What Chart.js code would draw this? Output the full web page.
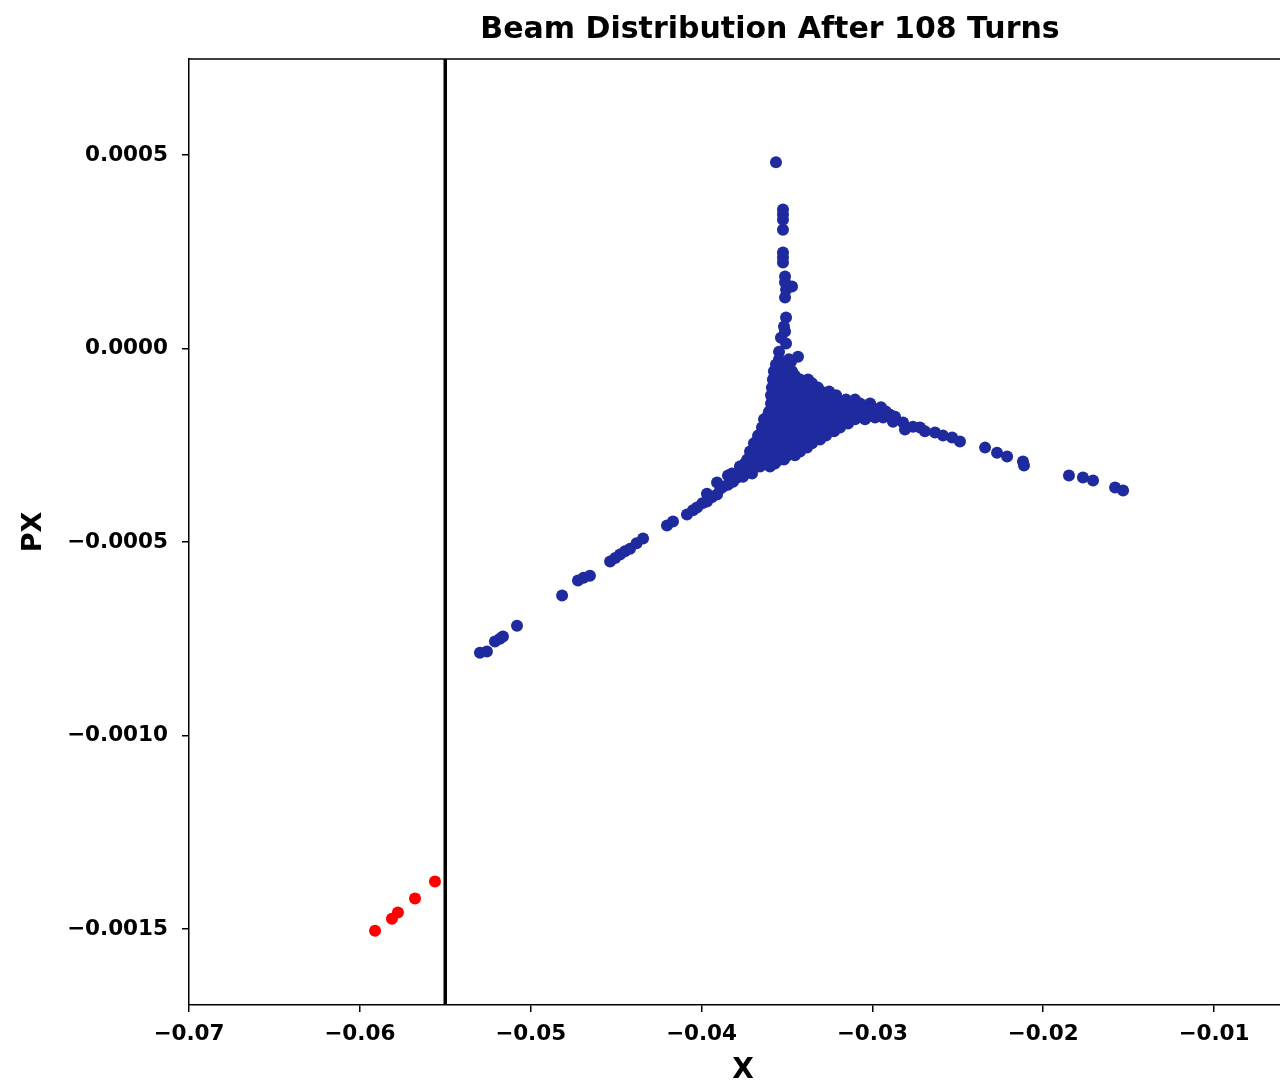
<!DOCTYPE html>
<html>
<head>
<meta charset="utf-8">
<title>Beam Distribution After 108 Turns</title>
<script src="https://cdn.jsdelivr.net/npm/chart.js@4.4.1/dist/chart.umd.min.js"></script>
<style>
  html, body { margin: 0; padding: 0; background: #ffffff; overflow: hidden; }
  #wrap { width: 1280px; height: 1085px; overflow: hidden; position: relative; }
  canvas { display: block; }
</style>
</head>
<body>
<div id="wrap"><canvas id="phase" width="1540" height="1085"></canvas></div>
<script>
// ---- Phase-space coordinates (X [m], PX [rad]) after 108 turns ----

// Particles still circulating: the vertical (upper) arm of the distribution
const upperArmX  = [-0.03564, -0.03523, -0.03523, -0.03523, -0.03523, -0.03523, -0.03523, -0.03523,
                    -0.03511, -0.03511, -0.03505, -0.03470, -0.03511, -0.03505, -0.03511, -0.03517,
                    -0.03535, -0.03505, -0.03546, -0.03435, -0.03476];
const upperArmPX = [0.000481, 0.000359, 0.000346, 0.000333, 0.000307, 0.000248, 0.000235, 0.000222,
                    0.000186, 0.000171, 0.000152, 0.000160, 0.000132, 0.000080, 0.000044, 0.000057,
                    0.000028, 0.000013, -0.000008, -0.000021, -0.000034];

// Dense core, one PX level per row
const coreRowPX = [-0.000028, -0.000041, -0.000059, -0.000080, -0.000101, -0.000121, -0.000142, -0.000163,
                   -0.000183, -0.000204, -0.000225, -0.000245, -0.000266, -0.000287, -0.000305, -0.000323];
const coreRowX = [
  [-0.03546, -0.03488],
  [-0.03564, -0.03505],
  [-0.03576, -0.03523, -0.03470],
  [-0.03582, -0.03529, -0.03476, -0.03423, -0.03376],
  [-0.03588, -0.03535, -0.03482, -0.03429, -0.03376, -0.03318],
  [-0.03593, -0.03540, -0.03488, -0.03435, -0.03382, -0.03329, -0.03271, -0.03212],
  [-0.03593, -0.03552, -0.03499, -0.03447, -0.03394, -0.03341, -0.03289, -0.03236, -0.03183, -0.03131, -0.03072, -0.03013],
  [-0.03605, -0.03564, -0.03511, -0.03459, -0.03406, -0.03353, -0.03300, -0.03248, -0.03195, -0.03142, -0.03090, -0.03037, -0.02978, -0.02920],
  [-0.03634, -0.03588, -0.03535, -0.03482, -0.03429, -0.03376, -0.03324, -0.03271, -0.03218, -0.03160, -0.03101, -0.03043],
  [-0.03646, -0.03611, -0.03558, -0.03505, -0.03453, -0.03400, -0.03347, -0.03294, -0.03242, -0.03189],
  [-0.03669, -0.03634, -0.03582, -0.03529, -0.03476, -0.03423, -0.03370, -0.03318, -0.03271],
  [-0.03693, -0.03663, -0.03611, -0.03558, -0.03505, -0.03453, -0.03400, -0.03353],
  [-0.03716, -0.03681, -0.03628, -0.03576, -0.03523, -0.03470, -0.03423],
  [-0.03733, -0.03698, -0.03646, -0.03593, -0.03540, -0.03517],
  [-0.03774, -0.03716, -0.03657, -0.03599],
  [-0.03821, -0.03763, -0.03704]
];

// Core particles lying between the rows above
const coreMidRowPX = [-0.000070, -0.000090, -0.000111, -0.000132, -0.000152, -0.000173,
                      -0.000194, -0.000214, -0.000235, -0.000256, -0.000276, -0.000297];
const coreMidRowX = [
  [-0.03558, -0.03505, -0.03453],
  [-0.03558, -0.03505, -0.03453, -0.03400, -0.03353],
  [-0.03564, -0.03511, -0.03459, -0.03406, -0.03353, -0.03300, -0.03253],
  [-0.03570, -0.03523, -0.03470, -0.03417, -0.03365, -0.03312, -0.03259, -0.03206, -0.03154, -0.03101],
  [-0.03582, -0.03529, -0.03476, -0.03423, -0.03371, -0.03318, -0.03265, -0.03212, -0.03160, -0.03107, -0.03054, -0.03002, -0.02949],
  [-0.03611, -0.03558, -0.03505, -0.03453, -0.03400, -0.03347, -0.03294, -0.03242, -0.03189, -0.03131, -0.03072, -0.03013],
  [-0.03622, -0.03570, -0.03517, -0.03464, -0.03412, -0.03359, -0.03306, -0.03253, -0.03201, -0.03142],
  [-0.03640, -0.03588, -0.03535, -0.03482, -0.03429, -0.03376, -0.03324, -0.03271, -0.03224],
  [-0.03669, -0.03617, -0.03564, -0.03511, -0.03459, -0.03406, -0.03353, -0.03306],
  [-0.03681, -0.03628, -0.03576, -0.03523, -0.03470, -0.03423, -0.03382],
  [-0.03704, -0.03652, -0.03599, -0.03546, -0.03494, -0.03453],
  [-0.03745, -0.03687, -0.03628, -0.03570]
];

// Lower-left arm
const lowerArmX  = [-0.05297, -0.05256, -0.05209, -0.05180, -0.05162, -0.05080, -0.04816, -0.04723,
                    -0.04690, -0.04653, -0.04535, -0.04505, -0.04477, -0.04448, -0.04418, -0.04380,
                    -0.04342, -0.04202, -0.04167, -0.04085, -0.04050, -0.04026, -0.03995, -0.03968,
                    -0.03968, -0.03940, -0.03909, -0.03909, -0.03890, -0.03874, -0.03845, -0.03845,
                    -0.03815, -0.03790, -0.03774, -0.03757, -0.03740, -0.03716, -0.03700, -0.03675];
const lowerArmPX = [-0.000786, -0.000783, -0.000757, -0.000750, -0.000744, -0.000716, -0.000638, -0.000599,
                    -0.000592, -0.000587, -0.000550, -0.000541, -0.000532, -0.000524, -0.000517, -0.000503,
                    -0.000491, -0.000457, -0.000447, -0.000429, -0.000418, -0.000411, -0.000400, -0.000395,
                    -0.000375, -0.000384, -0.000377, -0.000346, -0.000362, -0.000357, -0.000352, -0.000328,
                    -0.000344, -0.000333, -0.000305, -0.000331, -0.000318, -0.000318, -0.000305, -0.000305];

// Right-hand arm
const rightArmX  = [-0.02984, -0.02937, -0.02896, -0.02879, -0.02867, -0.02820, -0.02809, -0.02762,
                    -0.02721, -0.02692, -0.02633, -0.02586, -0.02533, -0.02487, -0.02340, -0.02270,
                    -0.02211, -0.02118, -0.02112, -0.01849, -0.01767, -0.01708, -0.01579, -0.01532];
const rightArmPX = [-0.000178, -0.000178, -0.000171, -0.000189, -0.000176, -0.000191, -0.000209, -0.000202,
                    -0.000204, -0.000214, -0.000217, -0.000225, -0.000230, -0.000240, -0.000256, -0.000269,
                    -0.000279, -0.000292, -0.000302, -0.000328, -0.000333, -0.000341, -0.000359, -0.000367];

// Particles lost beyond the aperture
const lostX  = [-0.05911, -0.05812, -0.05777, -0.05677, -0.05560];
const lostPX = [-0.001504, -0.001473, -0.001457, -0.001421, -0.001377];

// Aperture position and axes
const apertureX = -0.055;
const xMin = -0.07, xMax = -0.00514;
const yMin = -0.001696, yMax = 0.000748;
const xTicks = [-0.07, -0.06, -0.05, -0.04, -0.03, -0.02, -0.01];
const yTicks = [-0.0015, -0.0010, -0.0005, 0.0, 0.0005];

// ---- Build point lists ----
const toPoints = (xs, ys) => xs.map((x, i) => ({ x: x, y: ys[i] }));
const rowsToPoints = (rows, levels) => rows.flatMap((row, r) => row.map(x => ({ x: x, y: levels[r] })));
const survivors = [
  ...toPoints(upperArmX, upperArmPX),
  ...rowsToPoints(coreRowX, coreRowPX),
  ...rowsToPoints(coreMidRowX, coreMidRowPX),
  ...toPoints(lowerArmX, lowerArmPX),
  ...toPoints(rightArmX, rightArmPX)
];
const lost = toPoints(lostX, lostPX);

const FONT = "'DejaVu Sans', sans-serif";
const fmt = (v, d) => (v < -1e-12 ? '\u2212' : '') + Math.abs(v).toFixed(d);

// Top and right spines of the axes box
const frame = {
  id: 'frame',
  afterDatasetsDraw(chart) {
    const { ctx, chartArea: a } = chart;
    ctx.save();
    ctx.strokeStyle = '#000';
    ctx.lineWidth = 1.5;
    ctx.beginPath();
    ctx.moveTo(a.left, a.top);
    ctx.lineTo(a.right, a.top);
    ctx.lineTo(a.right, a.bottom);
    ctx.stroke();
    ctx.restore();
  }
};

const tickFont = { family: FONT, size: 21.5, weight: 'bold' };

new Chart(document.getElementById('phase'), {
  type: 'scatter',
  data: {
    datasets: [
      { label: 'Surviving', data: survivors, backgroundColor: '#1f2a9f', borderWidth: 0, pointRadius: 6, order: 3 },
      { label: 'Lost', data: lost, backgroundColor: '#ff0000', borderWidth: 0, pointRadius: 6, order: 2 },
      { type: 'line', label: 'Aperture', data: [{ x: apertureX, y: yMin }, { x: apertureX, y: yMax }],
        borderColor: '#000', borderWidth: 3.5, pointRadius: 0, fill: false, tension: 0, order: 1 }
    ]
  },
  options: {
    responsive: false,
    animation: false,
    devicePixelRatio: 1,
    events: [],
    layout: { padding: 0 },
    plugins: {
      legend: { display: false },
      tooltip: { enabled: false },
      title: {
        display: true,
        text: 'Beam Distribution After 108 Turns',
        color: '#000',
        font: { family: FONT, size: 30, weight: 'bold', lineHeight: 1.2 },
        padding: { top: 12, bottom: 11 }
      }
    },
    scales: {
      x: {
        type: 'linear', position: 'bottom', min: xMin, max: xMax,
        afterFit(s) { s.height = 80; },
        afterBuildTicks(s) { s.ticks = xTicks.map(v => ({ value: v })); },
        ticks: { autoSkip: false, maxRotation: 0, minRotation: 0, padding: 10, color: '#000', font: tickFont,
                 callback: v => fmt(v, 2) },
        grid: { drawOnChartArea: false, drawTicks: true, tickLength: 7, color: '#000', lineWidth: 1.5 },
        border: { display: true, color: '#000', width: 1.5 },
        title: { display: true, text: 'X', color: '#000',
                 font: { family: FONT, size: 28, weight: 'bold', lineHeight: 1 }, padding: { top: 0, bottom: 0 } }
      },
      y: {
        type: 'linear', position: 'left', min: yMin, max: yMax,
        afterFit(s) { s.width = 189; },
        afterBuildTicks(s) { s.ticks = yTicks.map(v => ({ value: v })); },
        ticks: { autoSkip: false, padding: 14, color: '#000', font: tickFont,
                 callback: v => fmt(v, 4) },
        grid: { drawOnChartArea: false, drawTicks: true, tickLength: 7, color: '#000', lineWidth: 1.5 },
        border: { display: true, color: '#000', width: 1.5 },
        title: { display: true, text: 'PX', color: '#000',
                 font: { family: FONT, size: 27, weight: 'bold', lineHeight: 1 }, padding: { top: 20, bottom: 0 } }
      },
      // empty gutter on the right of the axes box
      gutter: {
        type: 'linear', position: 'right', display: true,
        afterFit(s) { s.width = 243; },
        ticks: { display: false },
        grid: { display: false },
        border: { display: false }
      }
    }
  },
  plugins: [frame]
});
</script>
</body>
</html>
